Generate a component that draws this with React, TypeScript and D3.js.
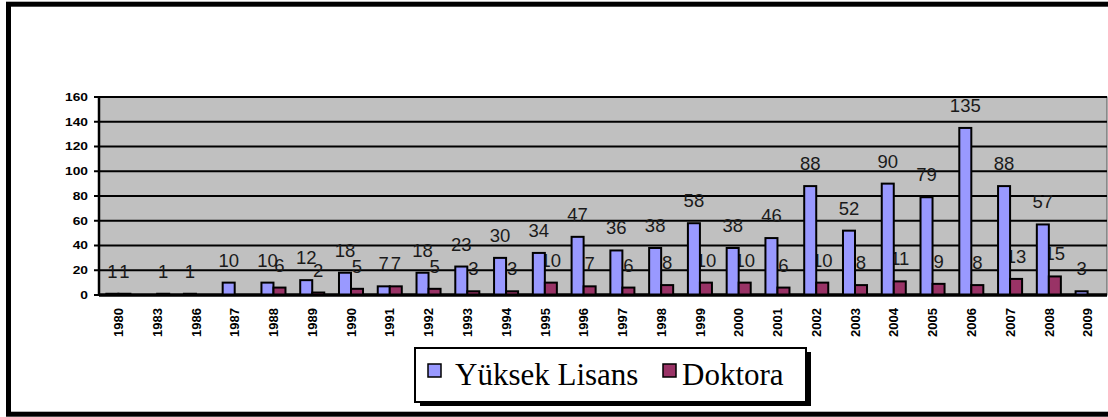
import React from "react";
import * as d3 from "d3";

// years on the category axis (not continuous: 1981-82, 1984-85 missing)
const years = ["1980", "1983", "1986", "1987", "1988", "1989", "1990", "1991", "1992", "1993", "1994", "1995", "1996", "1997", "1998", "1999", "2000", "2001", "2002", "2003", "2004", "2005", "2006", "2007", "2008", "2009"];
// null = no bar / no label
const yuksekLisans = [1, null, 1, 10, 10, 12, 18, 7, 18, 23, 30, 34, 47, 36, 38, 58, 38, 46, 88, 52, 90, 79, 135, 88, 57, 3];
const doktora = [1, 1, null, null, 6, 2, 5, 7, 5, 3, 3, 10, 7, 6, 8, 10, 10, 6, 10, 8, 11, 9, 8, 13, 15, null];
const seriesNames = ["Yüksek Lisans", "Doktora"];
const seriesColors = ["#9999FF", "#993366"];
const yTicks = [0, 20, 40, 60, 80, 100, 120, 140, 160];

const W = 1108;
const H = 417;
const plot = { left: 99, right: 1107, top: 97, bottom: 295 };

export default function App() {
  const x = d3.scaleBand<string>()
    .domain(years)
    .range([plot.left, plot.right])
    .paddingInner(0.38)
    .paddingOuter(0.19);
  const xInner = d3.scaleBand<number>()
    .domain([0, 1])
    .range([0, x.bandwidth()]);
  const y = d3.scaleLinear().domain([0, 160]).range([plot.bottom, plot.top]);

  const series = [yuksekLisans, doktora];
  const labelFont = "'Liberation Sans', Arial, sans-serif";

  // draws the value labels for one series
  const labels = (si: number) =>
    series[si].map((v, i) =>
      v == null ? null : (
        <text
          key={`l${si}-${i}`}
          x={x(years[i])! + xInner(si)! + xInner.bandwidth() / 2}
          y={y(v) - 16}
          textAnchor="middle"
          fontFamily={labelFont}
          fontSize={18.5}
          fill="#1a1a1a"
        >
          {v}
        </text>
      )
    );

  return (
    <svg width={W} height={H} style={{ position: "absolute", left: 0, top: 0, background: "#fff" }}>
      {/* outer frame, right side runs off the picture */}
      <rect x={8.5} y={4.2} width={1115} height={410} fill="#fff" stroke="#000" strokeWidth={5} />

      {/* plot area */}
      <rect x={plot.left} y={plot.top} width={plot.right - plot.left} height={plot.bottom - plot.top} fill="#C0C0C0" stroke="#555" strokeWidth={1} />
      {yTicks.map((t) => (
        <g key={t}>
          <line x1={plot.left} x2={plot.right} y1={y(t)} y2={y(t)} stroke="#000" strokeWidth={t === 0 ? 3 : 2} />
          <line x1={94} x2={plot.left} y1={y(t)} y2={y(t)} stroke="#000" strokeWidth={2} />
          <text
            transform={`translate(88,${y(t)}) scale(1.25,1)`}
            dy="0.36em"
            textAnchor="end"
            fontFamily={labelFont}
            fontWeight="bold"
            fontSize={11}
            fill="#000"
          >
            {t}
          </text>
        </g>
      ))}
      <line x1={plot.left} x2={plot.left} y1={plot.top - 1} y2={plot.bottom + 1} stroke="#000" strokeWidth={2.5} />

      {/* doktora labels sit behind the bars */}
      {labels(1)}

      {series.map((vals, si) =>
        vals.map((v, i) =>
          v == null ? null : (
            <rect
              key={`b${si}-${i}`}
              x={x(years[i])! + xInner(si)!}
              y={y(v)}
              width={xInner.bandwidth()}
              height={plot.bottom - y(v)}
              fill={seriesColors[si]}
              stroke="#000"
              strokeWidth={2}
            />
          )
        )
      )}
      <line x1={plot.left} x2={plot.right} y1={plot.bottom} y2={plot.bottom} stroke="#000" strokeWidth={3} />

      {labels(0)}

      {/* category labels */}
      {years.map((yr) => (
        <text
          key={yr}
          transform={`translate(${x(yr)! + x.bandwidth() / 2},308) rotate(-90)`}
          dy="0.36em"
          textAnchor="end"
          fontFamily={labelFont}
          fontWeight="bold"
          fontSize={13}
          fill="#000"
        >
          {yr}
        </text>
      ))}

      {/* legend */}
      <rect x={420} y={352} width={391} height={54} fill="#000" />
      <rect x={415} y={348} width={391} height={54} fill="#fff" stroke="#000" strokeWidth={2} />
      <rect x={428} y={364} width={13} height={13} fill={seriesColors[0]} stroke="#000" strokeWidth={1.5} />
      <text x={455} y={385} fontFamily="'Liberation Serif', 'Times New Roman', serif" fontSize={31} fill="#000">
        {seriesNames[0]}
      </text>
      <rect x={663} y={364} width={13} height={13} fill={seriesColors[1]} stroke="#000" strokeWidth={1.5} />
      <text x={682} y={385} fontFamily="'Liberation Serif', 'Times New Roman', serif" fontSize={31} fill="#000">
        {seriesNames[1]}
      </text>
    </svg>
  );
}
